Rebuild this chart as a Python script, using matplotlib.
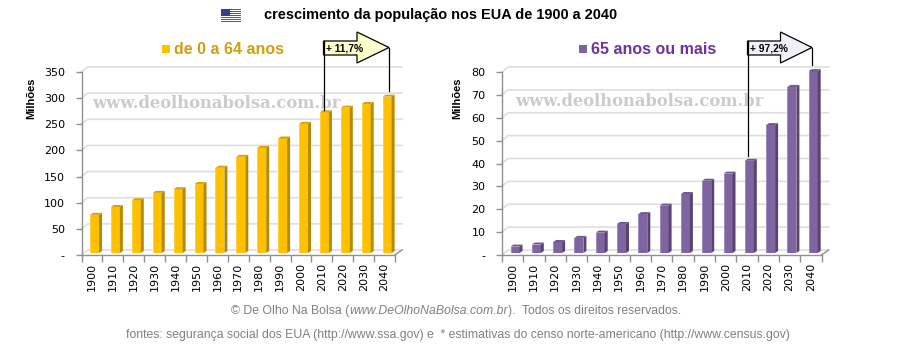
import matplotlib
matplotlib.use("Agg")
import matplotlib.pyplot as plt
from matplotlib.patches import Polygon, Rectangle

plt.rcParams["font.family"] = ["Liberation Sans", "DejaVu Sans"]

years = [1900, 1910, 1920, 1930, 1940, 1950, 1960, 1970, 1980, 1990, 2000, 2010, 2020, 2030, 2040]
young = [73, 88, 101, 115, 122, 132, 163, 184, 201, 219, 247, 269, 278, 285, 299]
old = [2.8, 3.7, 4.8, 6.6, 8.9, 12.7, 17, 20.7, 25.8, 31.6, 34.7, 40.3, 55.9, 72.6, 79.5]
young_ticks = [0, 50, 100, 150, 200, 250, 300, 350]
old_ticks = [0, 10, 20, 30, 40, 50, 60, 70, 80]

W, H = 900, 350
fig = plt.figure(figsize=(W / 100, H / 100), dpi=100, facecolor="white")


def bar_panel(x0, x1, values, ticks, front, side, top, edge, shift):
    ax = fig.add_axes([x0 / W, (H - 255) / H, (x1 - x0) / W, 183 / H])
    ymax = ticks[-1]
    ax.set_xlim(0, len(values))
    ax.set_ylim(0, ymax)
    ax.patch.set_visible(False)
    px = len(values) / (x1 - x0)
    py = ymax / 183

    # back wall of the fake 3d chart
    for t in ticks:
        ax.plot([0, 6 * px, (x1 - x0 + 7) * px], [t, t + 5 * py, t + 5 * py], color="#dedede",
                lw=1.2, clip_on=False, zorder=1, solid_joinstyle="miter")
    ax.plot([len(values), len(values) + 7 * px], [0, 5 * py], color="#909090", lw=1, clip_on=False, zorder=2)

    for i, v in enumerate(values):
        left = i + shift * px
        right = left + 9 * px
        base = 2 * py
        ytop = v + base
        ax.add_patch(Rectangle((left, base), right - left, v, fc=front, ec="none", zorder=4, clip_on=False))
        ax.add_patch(Rectangle((left, base), 1 * px, v, fc=edge, ec="none", zorder=5, clip_on=False))
        ax.add_patch(Polygon([(right, base), (right + 3 * px, base + 2 * py), (right + 3 * px, ytop + 2 * py),
                              (right, ytop)], fc=side, ec="none", zorder=4, clip_on=False))
        ax.add_patch(Polygon([(left, ytop), (left + 3 * px, ytop + 2 * py), (right + 3 * px, ytop + 2 * py),
                              (right, ytop)], fc=top, ec="none", zorder=4, clip_on=False))

    for s in ["top", "right"]:
        ax.spines[s].set_visible(False)
    for s in ["left", "bottom"]:
        ax.spines[s].set_color("#909090")
        ax.spines[s].set_linewidth(1)
    ax.set_yticks(ticks)
    ax.set_yticklabels(["-"] + [str(t) for t in ticks[1:]], fontsize=8, family="DejaVu Sans", color="black")
    ax.set_xticks(range(len(values) + 1))
    ax.set_xticklabels([])
    ax.tick_params(axis="y", length=4, width=1, color="#909090", pad=8)
    ax.tick_params(axis="x", length=5, width=1, color="#909090")
    for i, y in enumerate(years):
        ax.text(i + 0.5, -7.5 * py, str(y), rotation=90, ha="center", va="top", fontsize=8,
                family="DejaVu Sans", color="black", clip_on=False)
    return ax


bar_panel(81.5, 395, young, young_ticks, "#ffc000", "#b58900", "#d6a20a", "#ffd040", 8.5)
bar_panel(502, 821.5, old, old_ticks, "#8064a2", "#58446f", "#6e5690", "#a08cbc", 8.5)

# overlay in pixel coordinates for all the annotations
ov = fig.add_axes([0, 0, 1, 1], zorder=10)
ov.set_xlim(0, W)
ov.set_ylim(H, 0)
ov.axis("off")

ov.text(264, 15, "crescimento da população nos EUA de 1900 a 2040", fontsize=10.48, fontweight="bold",
        ha="left", va="center", color="black")

# flag
stripe_count = 7
for k in range(stripe_count):
    ov.add_patch(Rectangle((221, 9 + k * 2), 20, 1, fc="#e02030", ec="none"))
ov.add_patch(Rectangle((221, 9), 9, 7, fc="#3c3b8e", ec="none"))

ov.add_patch(Rectangle((162, 45), 8, 8, fc="#ffc000", ec="none"))
ov.text(174, 49, "de 0 a 64 anos", fontsize=11.5, fontweight="bold", color="#d0a010", ha="left", va="center")
ov.add_patch(Rectangle((579, 45), 8, 8, fc="#8064a2", ec="none"))
ov.text(591, 49, "65 anos ou mais", fontsize=11.5, fontweight="bold", color="#7030a0", ha="left", va="center")

ov.text(31, 98, "Milhões", rotation=90, fontsize=8, fontweight="bold", ha="center", va="center")
ov.text(457.5, 98, "Milhões", rotation=90, fontsize=8, fontweight="bold", ha="center", va="center")

for wx, wy in [(92, 104), (515, 101)]:
    ov.text(wx, wy, "www.deolhonabolsa.com.br", family="DejaVu Serif", fontweight="bold",
            fontsize=11.75, color="#cbcbcb", ha="left", va="center", zorder=1)


def callout(xl, head, tip, low_l, low_r, fill, label):
    ov.add_patch(Polygon([(xl, 41), (head, 41), (head, 32), (tip, 47.5), (head, 63), (head, 55), (xl, 55)],
                         closed=True, fc=fill, ec="black", lw=0.9, zorder=6))
    ov.plot([xl, xl], [41, low_l], color="black", lw=0.9, zorder=7)
    ov.plot([tip, tip], [47.5, low_r], color="black", lw=0.9, zorder=7)
    ov.text(xl + 2, 48.5, label, fontsize=7.4, fontweight="bold", ha="left", va="center", zorder=8)


callout(323.5, 357, 389, 110, 91, "#ffffcc", "+ 11,7%")
callout(747.5, 780.5, 812, 156, 65, "#f0f0fa", "+ 97,2%")


def run_of_text(x, y, parts):
    renderer = fig.canvas.get_renderer()
    for s, style in parts:
        t = ov.text(x, y, s, fontsize=8.8, color="#808080", style=style, ha="left", va="center")
        x += t.get_window_extent(renderer).width + (3 if s.endswith(" ") else 0)


run_of_text(231, 311, [("© De Olho Na Bolsa (", "normal"), ("www.DeOlhoNaBolsa.com.br", "italic"),
                       (").  Todos os direitos reservados.", "normal")])
ov.text(126.5, 335, "fontes: segurança social dos EUA (http://www.ssa.gov) e  * estimativas do censo norte-americano (http://www.census.gov)",
        fontsize=8.84, color="#808080", ha="left", va="center")

fig.savefig("out.png", dpi=100)
